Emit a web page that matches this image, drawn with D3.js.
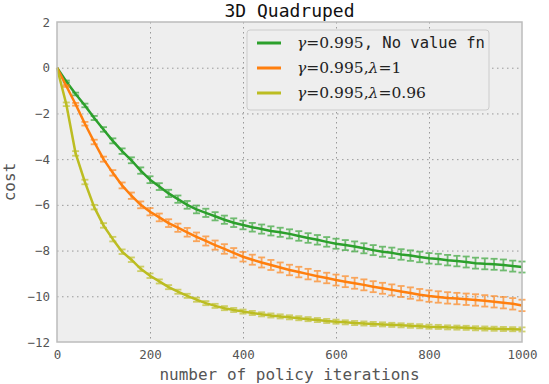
<!DOCTYPE html>
<html>
<head>
<meta charset="utf-8">
<script src="https://cdn.jsdelivr.net/npm/d3@7"></script>
<style>
  body { margin: 0; background: #fff; }
  #plot text { font-family: "DejaVu Sans Mono", monospace; }
</style>
</head>
<body>
<div id="plot"></div>
<script>
// iterations sampled every 20
const iterations = d3.range(0, 1001, 20);

const greenCost = [0, -0.6, -1.15, -1.65, -2.2, -2.7, -3.2, -3.65, -4.05, -4.5, -4.9,
  -5.2, -5.5, -5.75, -6.0, -6.2, -6.35, -6.5, -6.65, -6.78, -6.88,
  -6.98, -7.06, -7.14, -7.2, -7.27, -7.36, -7.45, -7.53, -7.62, -7.7,
  -7.76, -7.82, -7.9, -7.98, -8.05, -8.1, -8.17, -8.22, -8.28, -8.34,
  -8.37, -8.42, -8.46, -8.5, -8.55, -8.58, -8.6, -8.63, -8.68, -8.72];
const greenErr = [0, 0.04, 0.06, 0.08, 0.09, 0.1, 0.11, 0.12, 0.13, 0.14, 0.15,
  0.15, 0.16, 0.16, 0.17, 0.17, 0.18, 0.18, 0.18, 0.19, 0.19,
  0.19, 0.2, 0.2, 0.2, 0.2, 0.21, 0.21, 0.21, 0.21, 0.22,
  0.22, 0.22, 0.22, 0.22, 0.22, 0.23, 0.23, 0.23, 0.23, 0.23,
  0.23, 0.23, 0.23, 0.24, 0.24, 0.24, 0.24, 0.24, 0.24, 0.24];

const orangeCost = [0, -0.8, -1.6, -2.45, -3.25, -4.0, -4.6, -5.15, -5.6, -6.0, -6.3,
  -6.55, -6.8, -7.0, -7.2, -7.4, -7.58, -7.76, -7.93, -8.1, -8.27,
  -8.4, -8.52, -8.63, -8.74, -8.85, -8.94, -9.03, -9.12, -9.2, -9.29,
  -9.36, -9.43, -9.5, -9.58, -9.65, -9.72, -9.79, -9.86, -9.93, -9.99,
  -10.03, -10.07, -10.1, -10.13, -10.16, -10.2, -10.24, -10.28, -10.33, -10.4];
const orangeErr = [0, 0.04, 0.06, 0.08, 0.1, 0.11, 0.12, 0.13, 0.14, 0.15, 0.16,
  0.17, 0.17, 0.18, 0.19, 0.19, 0.2, 0.2, 0.21, 0.21, 0.21,
  0.22, 0.22, 0.22, 0.22, 0.23, 0.23, 0.23, 0.23, 0.23, 0.24,
  0.24, 0.24, 0.24, 0.24, 0.24, 0.24, 0.24, 0.25, 0.25, 0.25,
  0.25, 0.25, 0.25, 0.25, 0.25, 0.25, 0.25, 0.25, 0.25, 0.25];

const yellowCost = [0, -1.6, -3.75, -5.0, -6.1, -6.9, -7.5, -8.05, -8.4, -8.8, -9.1,
  -9.35, -9.6, -9.8, -9.98, -10.15, -10.3, -10.42, -10.52, -10.6, -10.67,
  -10.73, -10.79, -10.84, -10.88, -10.92, -10.96, -11.0, -11.04, -11.08, -11.11,
  -11.14, -11.17, -11.19, -11.21, -11.23, -11.25, -11.27, -11.29, -11.31, -11.33,
  -11.34, -11.36, -11.37, -11.38, -11.4, -11.41, -11.42, -11.43, -11.44, -11.45];
const yellowErr = [0, 0.08, 0.1, 0.1, 0.1, 0.1, 0.1, 0.1, 0.1, 0.1, 0.1,
  0.09, 0.09, 0.09, 0.09, 0.09, 0.09, 0.09, 0.09, 0.09, 0.09,
  0.09, 0.09, 0.09, 0.09, 0.09, 0.09, 0.09, 0.09, 0.09, 0.09,
  0.09, 0.09, 0.09, 0.09, 0.09, 0.09, 0.09, 0.09, 0.09, 0.09,
  0.09, 0.09, 0.09, 0.09, 0.09, 0.09, 0.09, 0.09, 0.09, 0.09];

const xTicks = [0, 200, 400, 600, 800, 1000];
const yTicks = [2, 0, -2, -4, -6, -8, -10, -12];

const series = [
  {name: "green", cost: greenCost, err: greenErr, color: "#2ca02c"},
  {name: "orange", cost: orangeCost, err: orangeErr, color: "#ff7f0e"},
  {name: "yellow", cost: yellowCost, err: yellowErr, color: "#bcbd22"}
];

const width = 549, height = 384;
const marginTop = 22, marginRight = 27, marginBottom = 42, marginLeft = 57;

const x = d3.scaleLinear().domain([0, 1000]).range([marginLeft, width - marginRight]);
const y = d3.scaleLinear().domain([-12, 2]).range([height - marginBottom, marginTop]);

const svg = d3.select("#plot").append("svg")
    .attr("width", width)
    .attr("height", height);

// plot background
svg.append("rect")
    .attr("x", marginLeft).attr("y", marginTop)
    .attr("width", x(1000) - x(0)).attr("height", y(-12) - y(2))
    .attr("fill", "#eeeeee");

// grid lines
const grid = svg.append("g")
    .attr("stroke", "#999")
    .attr("stroke-width", 1)
    .attr("stroke-dasharray", "1.5,3.5");
grid.selectAll(".gx").data(xTicks.slice(1, -1)).join("line")
    .attr("x1", d => x(d) + 0.5).attr("x2", d => x(d) + 0.5)
    .attr("y1", y(2)).attr("y2", y(-12));
grid.selectAll(".gy").data(yTicks.slice(1, -1)).join("line")
    .attr("x1", x(0)).attr("x2", x(1000))
    .attr("y1", d => y(d) + 0.5).attr("y2", d => y(d) + 0.5);

// series lines and error bars
const line = d3.line()
    .x((d, i) => x(iterations[i]))
    .y(d => y(d));

series.forEach(s => {
  const g = svg.append("g");
  g.append("path")
      .attr("fill", "none")
      .attr("stroke", s.color)
      .attr("stroke-width", 2.5)
      .attr("stroke-linejoin", "round")
      .attr("d", line(s.cost));

  const eb = g.append("g")
      .attr("stroke", s.color)
      .attr("stroke-width", 1.8)
      .attr("opacity", 0.65);
  s.cost.forEach((c, i) => {
    const e = s.err[i];
    if (e <= 0) return;
    const px = x(iterations[i]);
    eb.append("line").attr("x1", px).attr("x2", px).attr("y1", y(c + e)).attr("y2", y(c - e));
    eb.append("line").attr("x1", px - 3.5).attr("x2", px + 3.5).attr("y1", y(c + e)).attr("y2", y(c + e));
    eb.append("line").attr("x1", px - 3.5).attr("x2", px + 3.5).attr("y1", y(c - e)).attr("y2", y(c - e));
  });
});

// frame
svg.append("rect")
    .attr("x", marginLeft).attr("y", marginTop)
    .attr("width", x(1000) - x(0)).attr("height", y(-12) - y(2))
    .attr("fill", "none")
    .attr("stroke", "#bcbcbc")
    .attr("stroke-width", 1.5);

// axes
const xAxis = svg.append("g")
    .attr("transform", `translate(0,${y(-12)})`)
    .call(d3.axisBottom(x).tickValues(xTicks).tickSize(0).tickPadding(8).tickFormat(d3.format("d")));
const yAxis = svg.append("g")
    .attr("transform", `translate(${x(0)},0)`)
    .call(d3.axisLeft(y).tickValues(yTicks).tickSize(0).tickPadding(7)
      .tickFormat(d => d < 0 ? "\u2212" + Math.abs(d) : d));
[xAxis, yAxis].forEach(a => {
  a.select(".domain").remove();
  a.selectAll("text")
      .attr("fill", "#555")
      .style("font-size", "12.5px")
      .style("font-family", "DejaVu Sans Mono, monospace");
});

// title and labels
svg.append("text")
    .attr("x", (x(0) + x(1000)) / 2).attr("y", 17)
    .attr("text-anchor", "middle")
    .style("font-size", "18px")
    .attr("fill", "#111")
    .text("3D Quadruped");

svg.append("text")
    .attr("x", (x(0) + x(1000)) / 2).attr("y", 380)
    .attr("text-anchor", "middle")
    .style("font-size", "16px")
    .attr("fill", "#555")
    .text("number of policy iterations");

svg.append("text")
    .attr("transform", `translate(15,${(y(2) + y(-12)) / 2}) rotate(-90)`)
    .attr("text-anchor", "middle")
    .style("font-size", "16px")
    .attr("fill", "#555")
    .text("cost");

// legend
const legend = svg.append("g");
legend.append("rect")
    .attr("x", 247).attr("y", 30)
    .attr("width", 242).attr("height", 80)
    .attr("rx", 3)
    .attr("fill", "#eeeeee")
    .attr("stroke", "#ccc")
    .attr("stroke-width", 1);

const legendItems = [
  {color: "#2ca02c", parts: [["γ", "i"], ["=0.995", "n"], [", No value fn", "m"]]},
  {color: "#ff7f0e", parts: [["γ", "i"], ["=0.995,", "n"], ["λ", "i"], ["=1", "n"]]},
  {color: "#bcbd22", parts: [["γ", "i"], ["=0.995,", "n"], ["λ", "i"], ["=0.96", "n"]]}
];
legendItems.forEach((item, i) => {
  const ly = 43 + i * 25;
  legend.append("line")
      .attr("x1", 257).attr("x2", 281)
      .attr("y1", ly).attr("y2", ly)
      .attr("stroke", item.color)
      .attr("stroke-width", 3);
  const t = legend.append("text")
      .attr("x", 297).attr("y", ly + 5)
      .attr("fill", "#222");
  item.parts.forEach(([txt, kind]) => {
    t.append("tspan")
        .style("font-family", kind === "m" ? "DejaVu Sans Mono, monospace" : "DejaVu Serif, serif")
        .style("font-style", kind === "i" ? "italic" : "normal")
        .style("font-size", "15.5px")
        .text(txt);
  });
});
</script>
</body>
</html>
